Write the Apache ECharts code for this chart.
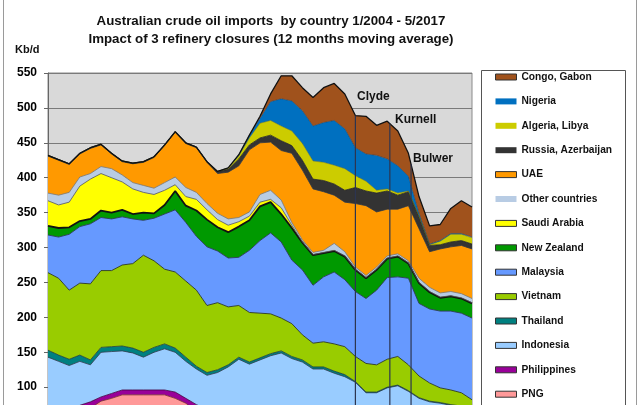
<!DOCTYPE html>
<html><head><meta charset="utf-8">
<script src="https://cdn.jsdelivr.net/npm/echarts@6/dist/echarts.min.js"></script>
<style>html,body{margin:0;padding:0;overflow:hidden;background:#fff}#c{width:640px;height:520px}</style>
</head><body><div id="c"></div><script>
// sample dates (every 4 months, 12-month moving average)
const dates = ["2004-01","2004-05","2004-09","2005-01","2005-05","2005-09","2006-01","2006-05","2006-09",
"2007-01","2007-05","2007-09","2008-01","2008-05","2008-09","2009-01","2009-05","2009-09","2010-01","2010-05",
"2010-09","2011-01","2011-05","2011-09","2012-01","2012-05","2012-09","2013-01","2013-05","2013-09","2014-01",
"2014-05","2014-09","2015-01","2015-05","2015-09","2016-01","2016-05","2016-09","2017-01","2017-05"];

// Kb/d per country
const congo      = [0,0,0,0,0,0,0,0,0,0,0,0,0,0,0,0,0,0,0,0,3,11,33,36,33,41,50,53,50,46,54,43,54,50,33,24,26,23,36,47,43];
const nigeria    = [0,0,0,0,0,0,0,0,0,0,0,0,0,0,0,0,0,0,2,4,7,27,39,43,47,50,57,64,57,40,39,50,43,39,21,4,1,1,1,1,1];
const algeria    = [0,0,0,0,0,0,0,0,0,0,0,0,0,0,0,0,0,2,4,10,21,21,21,21,24,26,26,27,31,17,14,4,3,3,1,1,1,5,11,9,9];
const russia     = [1,1,1,1,1,1,1,1,1,1,1,1,1,1,1,1,3,4,10,7,7,10,14,11,14,14,16,16,17,23,21,27,26,20,20,17,9,6,7,7,7];
const uae        = [53,50,40,33,36,31,21,19,27,33,44,53,64,63,64,59,57,67,74,89,74,69,71,99,100,91,84,69,71,91,100,79,67,64,79,71,51,63,64,69,71];
const other      = [11,14,14,13,8,10,13,10,9,10,9,11,11,13,10,9,9,9,6,6,11,13,11,4,3,3,3,10,6,3,3,3,3,3,3,6,6,6,6,6,6];
const saudi      = [36,33,36,50,57,53,50,40,36,29,27,21,9,13,16,14,11,10,7,6,6,4,9,4,1,1,1,1,1,1,1,1,1,1,1,1,1,1,1,1,1];
const newZealand = [13,13,10,8,7,10,9,10,7,11,7,13,27,24,37,39,34,37,44,43,49,44,40,46,39,43,34,30,33,31,29,29,27,29,21,29,24,19,21,21,21];
const malaysia   = [54,59,80,81,86,76,74,69,64,50,61,79,89,84,77,84,74,70,69,89,104,116,109,91,93,83,93,103,96,93,93,107,117,114,124,104,106,110,113,114,117];
const vietnam    = [111,110,99,103,109,110,109,116,121,139,124,107,109,109,109,96,96,83,74,71,64,57,47,47,36,34,36,39,40,36,41,39,40,41,37,31,26,21,21,19,10];
const thailand   = [10,9,9,9,7,7,7,7,7,7,7,7,6,6,4,4,4,3,3,3,3,3,3,3,3,3,3,3,3,1,1,1,1,1,1,1,1,1,1,1,1];
const indonesia  = [90,81,67,63,53,64,60,56,53,47,54,59,57,53,51,49,61,73,87,83,90,97,103,96,93,84,84,80,76,69,56,56,63,67,59,51,47,47,44,43,43];
const philippines= [10,10,10,10,9,6,7,7,7,7,7,7,9,7,9,9,9,9,9,9,9,9,9,9,9,9,9,9,9,9,9,9,9,9,9,9,9,9,9,9,9];
const png        = [43,46,54,64,70,80,84,89,89,89,89,89,84,77,66,59,51,47,44,41,40,39,37,36,34,33,33,31,30,29,27,27,27,26,26,24,23,21,21,20,19];

const closureNames  = ["Clyde","Kurnell","Bulwer"];
const closureDates  = ["2013-09","2014-10","2015-06"];
const yTicks = [0,50,100,150,200,250,300,350,400,450,500,550];

const toMonth = d => (parseInt(d.slice(0,4)) - 2004) * 12 + parseInt(d.slice(5,7)) - 1;
const xs = dates.map(toMonth);

const layers = [
  {name:"PNG", data:png, color:"#FF9999", line:"#7a3030", lw:0.8},
  {name:"Philippines", data:philippines, color:"#990099", line:"#400040", lw:0.8},
  {name:"Indonesia", data:indonesia, color:"#99CCFF", line:"#2d3a50", lw:0.8},
  {name:"Thailand", data:thailand, color:"#008080", line:"#1d3b3b", lw:0.8},
  {name:"Vietnam", data:vietnam, color:"#99CC00", line:"#2b3b18", lw:0.9},
  {name:"Malaysia", data:malaysia, color:"#6699FF", line:"#2a3a5a", lw:0.9},
  {name:"New Zealand", data:newZealand, color:"#009900", line:"#111111", lw:1.8},
  {name:"Saudi Arabia", data:saudi, color:"#FFFF00", line:"#555555", lw:0.8},
  {name:"Other countries", data:other, color:"#B8CCE4", line:"#777777", lw:0.8},
  {name:"UAE", data:uae, color:"#FF9900", line:"#333333", lw:0.8},
  {name:"Russia, Azerbaijan", data:russia, color:"#333333", line:"#222222", lw:0.8},
  {name:"Algeria, Libya", data:algeria, color:"#CCCC00", line:"#777700", lw:0.5},
  {name:"Nigeria", data:nigeria, color:"#0070C0", line:"#0a3a66", lw:0.5},
  {name:"Congo, Gabon", data:congo, color:"#A0521C", line:"#111111", lw:1.3}
];

// total at a month (linear between samples) for the closure lines
const totals = xs.map((x,i)=>layers.reduce((s,l)=>s+l.data[i],0));
function totalAt(m){
  for(let i=0;i<xs.length-1;i++){
    if(m>=xs[i] && m<=xs[i+1]){const t=(m-xs[i])/(xs[i+1]-xs[i]);return totals[i]+(totals[i+1]-totals[i])*t;}
  }
  return totals[totals.length-1];
}

const FONT = "Liberation Sans, Arial, sans-serif";
const series = layers.map(l=>({
  name:l.name, type:"line", stack:"all", symbol:"none", silent:true,
  xAxisIndex:0, yAxisIndex:0,
  data:l.data,
  itemStyle:{color:l.color},
  lineStyle:{color:l.line,width:l.lw},
  areaStyle:{color:l.color,opacity:1},
  emphasis:{disabled:true}
}));
closureDates.forEach(d=>{
  const m = toMonth(d);
  series.push({type:"line",xAxisIndex:1,yAxisIndex:0,symbol:"none",silent:true,z:5,
    lineStyle:{color:"#2c3550",width:1.2},data:[[m,totalAt(m)],[m,0]]});
});

const legendOrder = layers.slice().reverse();
const noBorder = {"Nigeria":1,"Algeria, Libya":1,"Other countries":1,"Russia, Azerbaijan":1};

const chart = echarts.init(document.getElementById("c"),null,{renderer:"canvas"});
chart.setOption({
  animation:false,
  backgroundColor:"#ffffff",
  grid:{left:48,top:73,width:424,height:384,show:true,backgroundColor:"#D9D9D9",borderColor:"#8a8a8a",borderWidth:1},
  xAxis:[
    {type:"category",data:dates,boundaryGap:false,
     axisLine:{lineStyle:{color:"#666"}},axisTick:{show:false},splitLine:{show:false},
     axisLabel:{interval:2,fontFamily:FONT,fontSize:11,color:"#000"}},
    {type:"value",min:0,max:160,show:false,splitLine:{show:false}}
  ],
  yAxis:{type:"value",min:yTicks[0],max:yTicks[yTicks.length-1],interval:50,
    axisLine:{show:true,lineStyle:{color:"#666",width:1}},
    axisTick:{show:true,inside:false,length:4,lineStyle:{color:"#666"}},
    axisLabel:{margin:11,fontFamily:FONT,fontSize:12,fontWeight:"bold",color:"#000"},
    splitLine:{show:true,lineStyle:{color:"#7a7a7a",width:1}}},
  legend:{
    orient:"vertical",left:495,top:70,padding:0,itemGap:10.4,itemWidth:21,itemHeight:6,icon:"rect",
    textStyle:{fontFamily:FONT,fontSize:10.2,fontWeight:"bold",color:"#111",lineHeight:14},
    itemStyle:{borderColor:"#333",borderWidth:1},
    data:legendOrder.map(l=>noBorder[l.name]?{name:l.name,itemStyle:{borderWidth:0}}:{name:l.name}),
    selectedMode:false
  },
  series:series,
  graphic:[
    {type:"rect",z:-10,shape:{x:3.5,y:-5,width:633,height:600},style:{fill:"none",stroke:"#9a9a9a",lineWidth:1}},
    {type:"rect",z:-10,shape:{x:481.5,y:70.5,width:144,height:500},style:{fill:"#fff",stroke:"#555",lineWidth:1}},
    {type:"text",x:271,y:12,z:10,style:{text:"Australian crude oil imports  by country 1/2004 - 5/2017\nImpact of 3 refinery closures (12 months moving average)",
      textAlign:"center",textVerticalAlign:"top",font:"bold 13.3px "+FONT,lineHeight:18,fill:"#111"}},
    {type:"text",x:15,y:44,z:10,style:{text:"Kb/d",font:"bold 11px "+FONT,fill:"#111"}},
    {type:"text",x:357,y:91,z:10,style:{text:closureNames[0],font:"bold 12px "+FONT,fill:"#111"}},
    {type:"text",x:395,y:114,z:10,style:{text:closureNames[1],font:"bold 12px "+FONT,fill:"#111"}},
    {type:"text",x:413,y:153,z:10,style:{text:closureNames[2],font:"bold 12px "+FONT,fill:"#111"}}
  ]
});
</script></body></html>
